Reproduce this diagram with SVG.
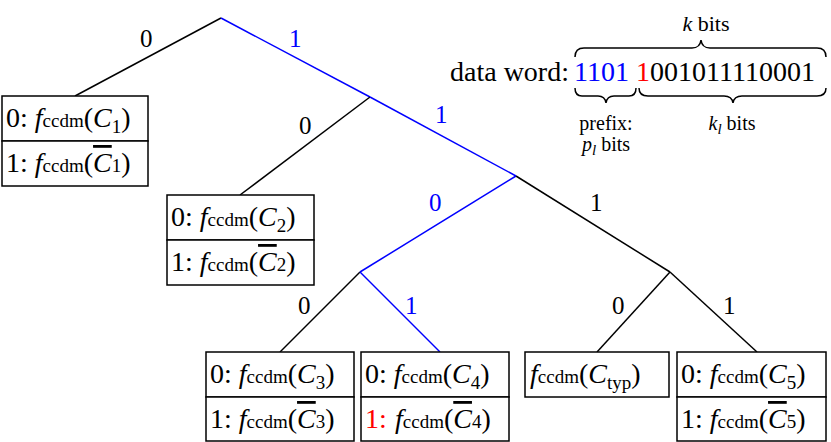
<svg xmlns="http://www.w3.org/2000/svg" width="831" height="442" viewBox="0 0 831 442" font-family="'Liberation Serif', 'Times New Roman', 'DejaVu Serif', serif">
<style>
text{font-family:'Liberation Serif','Times New Roman','DejaVu Serif',serif;fill:#000}
.t{font-size:28px}
.l{font-size:25px}
.b{fill:#0000ff}
.r{fill:#ff0000}
.i{font-style:italic}
.s{font-size:19px}
.box{fill:#fff;stroke:#000;stroke-width:1.5}
.e{stroke:#000;stroke-width:1.5;fill:none}
.eb{stroke:#0000ff;stroke-width:1.5;fill:none}
.br{stroke:#000;stroke-width:1.5;fill:none}
</style>
<g id="connectors">
<line class="e" x1="221" y1="18" x2="75" y2="96"/>
<line class="eb" x1="221" y1="18" x2="370" y2="97"/>
<line class="e" x1="370" y1="97" x2="240" y2="195"/>
<line class="eb" x1="370" y1="97" x2="516" y2="176"/>
<line class="eb" x1="516" y1="176" x2="360" y2="272"/>
<line class="e" x1="516" y1="176" x2="670" y2="272"/>
<line class="e" x1="360" y1="272" x2="280" y2="352"/>
<line class="eb" x1="360" y1="272" x2="440" y2="352"/>
<line class="e" x1="670" y1="272" x2="597" y2="352"/>
<line class="e" x1="670" y1="272" x2="757" y2="352"/>
<text class="l" x="140" y="47">0</text>
<text class="l b" x="289" y="47">1</text>
<text class="l" x="299" y="134">0</text>
<text class="l b" x="435" y="123">1</text>
<text class="l b" x="429" y="211">0</text>
<text class="l" x="590" y="211">1</text>
<text class="l" x="298" y="314">0</text>
<text class="l b" x="405" y="314">1</text>
<text class="l" x="612" y="314">0</text>
<text class="l" x="723" y="314">1</text>
</g>
<g id="n1">
<rect class="box" x="2" y="96" width="146" height="45"/><rect class="box" x="2" y="141" width="146" height="45"/>
<text class="t" x="6" y="127">0: <tspan class="i">f</tspan><tspan class="s">ccdm</tspan>(<tspan class="i">C</tspan><tspan class="s" dy="6">1</tspan><tspan dy="-6">)</tspan></text>
<text class="t" x="6" y="172">1: <tspan class="i">f</tspan><tspan class="s">ccdm</tspan>(<tspan class="i" text-decoration="overline">C</tspan><tspan class="s">1</tspan>)</text>
</g>
<g id="n2">
<rect class="box" x="167" y="195" width="147" height="45"/><rect class="box" x="167" y="240" width="147" height="45"/>
<text class="t" x="171" y="226">0: <tspan class="i">f</tspan><tspan class="s">ccdm</tspan>(<tspan class="i">C</tspan><tspan class="s" dy="6">2</tspan><tspan dy="-6">)</tspan></text>
<text class="t" x="171" y="271">1: <tspan class="i">f</tspan><tspan class="s">ccdm</tspan>(<tspan class="i" text-decoration="overline">C</tspan><tspan class="s">2</tspan>)</text>
</g>
<g id="n3">
<rect class="box" x="206" y="352" width="148" height="45"/><rect class="box" x="206" y="397" width="148" height="44"/>
<text class="t" x="210" y="383">0: <tspan class="i">f</tspan><tspan class="s">ccdm</tspan>(<tspan class="i">C</tspan><tspan class="s" dy="6">3</tspan><tspan dy="-6">)</tspan></text>
<text class="t" x="210" y="428">1: <tspan class="i">f</tspan><tspan class="s">ccdm</tspan>(<tspan class="i" text-decoration="overline">C</tspan><tspan class="s">3</tspan>)</text>
</g>
<g id="n4">
<rect class="box" x="361" y="352" width="148" height="45"/><rect class="box" x="361" y="397" width="148" height="44"/>
<text class="t" x="365" y="383">0: <tspan class="i">f</tspan><tspan class="s">ccdm</tspan>(<tspan class="i">C</tspan><tspan class="s" dy="6">4</tspan><tspan dy="-6">)</tspan></text>
<text class="t" x="365" y="428"><tspan class="r">1:</tspan><tspan x="395" class="i">f</tspan><tspan class="s">ccdm</tspan>(<tspan class="i" text-decoration="overline">C</tspan><tspan class="s">4</tspan>)</text>
</g>
<g id="n5">
<rect class="box" x="525" y="352" width="144" height="45"/>
<text class="t" x="530" y="383"><tspan class="i">f</tspan><tspan class="s">ccdm</tspan>(<tspan class="i">C</tspan><tspan class="s" dy="6">typ</tspan><tspan dy="-6">)</tspan></text>
</g>
<g id="n6">
<rect class="box" x="677" y="352" width="149" height="45"/><rect class="box" x="677" y="397" width="149" height="44"/>
<text class="t" x="681" y="383">0: <tspan class="i">f</tspan><tspan class="s">ccdm</tspan>(<tspan class="i">C</tspan><tspan class="s" dy="6">5</tspan><tspan dy="-6">)</tspan></text>
<text class="t" x="681" y="428">1: <tspan class="i">f</tspan><tspan class="s">ccdm</tspan>(<tspan class="i" text-decoration="overline">C</tspan><tspan class="s">5</tspan>)</text>
</g>
<g id="dataword">
<text x="450" y="81" style="font-size:28px">data word: </text>
<text x="574" y="81" style="font-size:28px" class="b">1101</text>
<text x="636" y="81" style="font-size:28px"><tspan class="r">1</tspan>001011110001</text>
<path class="br" d="M575,57 Q575,48 584,48 L692,48 Q700,48 701,40 Q702,48 710,48 L817,48 Q826,48 826,57"/>
<path class="br" d="M575,88 Q575,96 582,96 L598,96 Q605,96 606,103 Q607,96 614,96 L629,96 Q636,96 636,88"/>
<path class="br" d="M639,88 Q639,96 648,96 L724,96 Q732,96 733,103 Q734,96 742,96 L817,96 Q826,96 826,88"/>
<text x="706" y="31" style="font-size:22px" text-anchor="middle"><tspan class="i">k</tspan> bits</text>
<text x="606" y="130" style="font-size:20px" text-anchor="middle">prefix:</text>
<text x="606" y="151" style="font-size:20px" text-anchor="middle"><tspan class="i">p</tspan><tspan class="i" style="font-size:15px" dy="4">l</tspan><tspan dy="-4"> bits</tspan></text>
<text x="732" y="130" style="font-size:20px" text-anchor="middle"><tspan class="i">k</tspan><tspan class="i" style="font-size:15px" dy="4">l</tspan><tspan dy="-4"> bits</tspan></text>
</g>
</svg>
